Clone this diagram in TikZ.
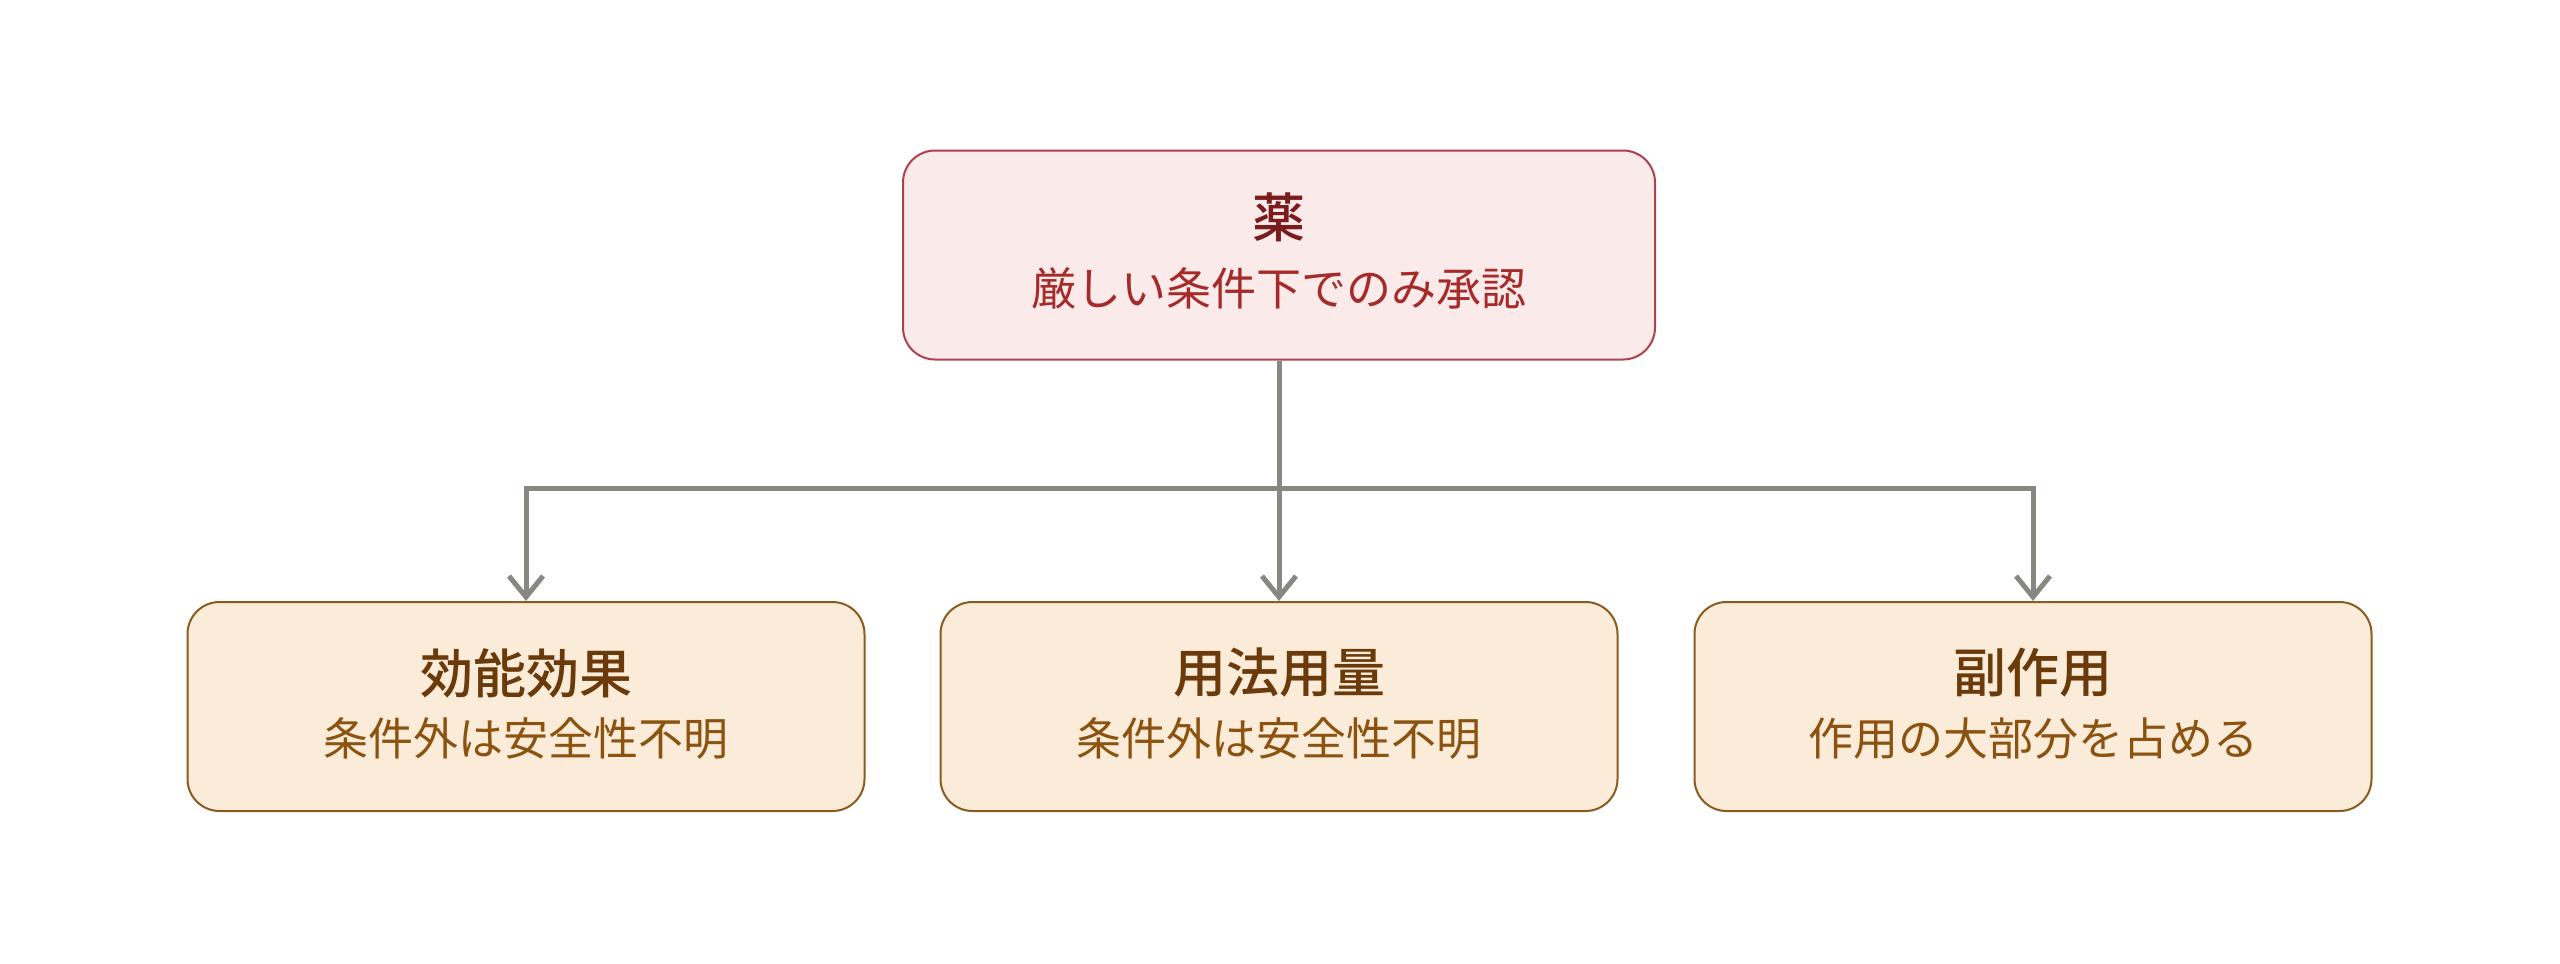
\documentclass[tikz,border=0pt]{standalone}
\usepackage{fontspec}
\setmainfont{Noto Sans CJK JP}[BoldFont={Noto Sans CJK JP Medium}]
\usetikzlibrary{arrows.meta}
\definecolor{topfill}{HTML}{FBEAEA}
\definecolor{topdraw}{HTML}{B0404A}
\definecolor{toptitle}{HTML}{7A1C1C}
\definecolor{topsub}{HTML}{A52A2A}
\definecolor{botfill}{HTML}{FAECD9}
\definecolor{botdraw}{HTML}{8B5A1E}
\definecolor{bottitle}{HTML}{6B3A0A}
\definecolor{botsub}{HTML}{8B5210}
\definecolor{linegray}{HTML}{888883}
\tikzset{
  box/.style={rounded corners=32pt, line width=2pt, minimum height=209pt, inner sep=0pt},
  topbox/.style={box, draw=topdraw, fill=topfill, minimum width=752pt},
  botbox/.style={box, draw=botdraw, fill=botfill, minimum width=677pt},
  ttl/.style={font=\fontsize{53}{60}\selectfont\bfseries, inner sep=0pt},
  sub/.style={font=\fontsize{45}{54}\selectfont, inner sep=0pt},
  arr/.style={draw=linegray, line width=5pt, -{Straight Barb[length=21pt,width=34pt,line width=5pt]}},
}
\begin{document}
\begin{tikzpicture}[x=1pt,y=-1pt]
\useasboundingbox (0,0) rectangle (2560,964);
\node[topbox] (top) at (1279,255) {};
\node[ttl, text=toptitle] (topt) at (1279,217) {薬};
\node[sub, text=topsub] (tops) at (1279,288) {厳しい条件下でのみ承認};

\node[botbox] (b1) at (526,706.5) {};
\node[ttl, text=bottitle] (b1t) at (526,673) {効能効果};
\node[sub, text=botsub] (b1s) at (526,739) {条件外は安全性不明};

\node[botbox] (b2) at (1279,706.5) {};
\node[ttl, text=bottitle] (b2t) at (1279,673) {用法用量};
\node[sub, text=botsub] (b2s) at (1279,739) {条件外は安全性不明};

\node[botbox] (b3) at (2033,706.5) {};
\node[ttl, text=bottitle] (b3t) at (2033,673) {副作用};
\node[sub, text=botsub] (b3s) at (2033,739) {作用の大部分を占める};

\coordinate (j) at (1279,488);
\draw[arr] (top.south) -- (j) -| (b1.north);
\draw[arr] (top.south) -- (b2.north);
\draw[arr] (j) -| (b3.north);
\end{tikzpicture}
\end{document}
